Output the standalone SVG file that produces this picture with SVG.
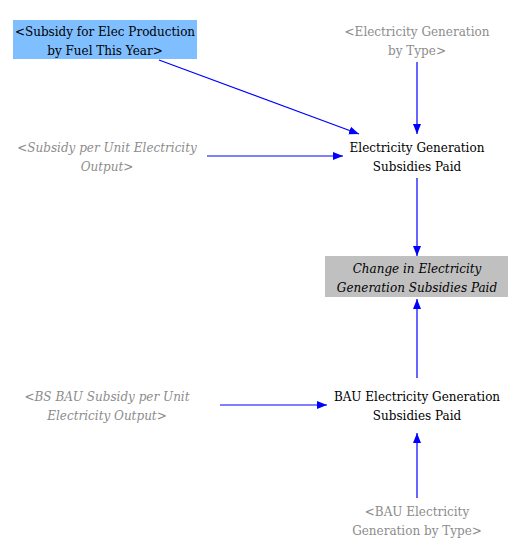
<svg xmlns="http://www.w3.org/2000/svg" width="530" height="549" viewBox="0 0 530 549">
<style>
text{font-family:"DejaVu Serif","Liberation Serif",serif;font-size:12px;text-anchor:middle}
.g{fill:#8c8c8c}
.i{font-style:italic}
.k{fill:#000}
.c{stroke:#0000ff;stroke-width:1.2;fill:none;marker-end:url(#a)}
</style>
<defs>
<marker id="a" viewBox="0 0 10 10" refX="10" refY="5" markerWidth="10" markerHeight="10" markerUnits="userSpaceOnUse" orient="auto">
<path d="M0,1 L10,5 L0,9 Z" fill="#0000ff"/>
</marker>
</defs>
<g id="connectors">
<path class="c" d="M159,60 L359,134"/>
<path class="c" d="M417,62 L417,134"/>
<path class="c" d="M207,156 L343,156"/>
<path class="c" d="M417,178 L417,256"/>
<path class="c" d="M417,378 L417,299"/>
<path class="c" d="M220,405 L327,405"/>
<path class="c" d="M417,498 L417,433"/>
</g>
<g id="subsidyElecFuel">
<rect x="13" y="20" width="184" height="39" fill="#80bfff"/>
<text class="k" x="105" y="36">&lt;Subsidy for Elec Production</text>
<text class="k" x="105" y="55">by Fuel This Year&gt;</text>
</g>
<g id="elecGenByType">
<text class="g" x="417" y="36">&lt;Electricity Generation</text>
<text class="g" x="417" y="55">by Type&gt;</text>
</g>
<g id="subsidyPerUnit">
<text class="g i" x="107" y="152">&lt;Subsidy per Unit Electricity</text>
<text class="g i" x="107" y="171">Output&gt;</text>
</g>
<g id="elecGenSubsidiesPaid">
<text class="k" x="417" y="152">Electricity Generation</text>
<text class="k" x="417" y="171">Subsidies Paid</text>
</g>
<g id="changeInSubsidies">
<rect x="325" y="256" width="183" height="41" fill="#c0c0c0"/>
<text class="k i" x="417" y="273">Change in Electricity</text>
<text class="k i" x="417" y="292">Generation Subsidies Paid</text>
</g>
<g id="bsBauSubsidy">
<text class="g i" x="107" y="401">&lt;BS BAU Subsidy per Unit</text>
<text class="g i" x="107" y="420">Electricity Output&gt;</text>
</g>
<g id="bauSubsidiesPaid">
<text class="k" x="417" y="401">BAU Electricity Generation</text>
<text class="k" x="417" y="420">Subsidies Paid</text>
</g>
<g id="bauElecGenByType">
<text class="g" x="417" y="516">&lt;BAU Electricity</text>
<text class="g" x="417" y="535">Generation by Type&gt;</text>
</g>
</svg>
